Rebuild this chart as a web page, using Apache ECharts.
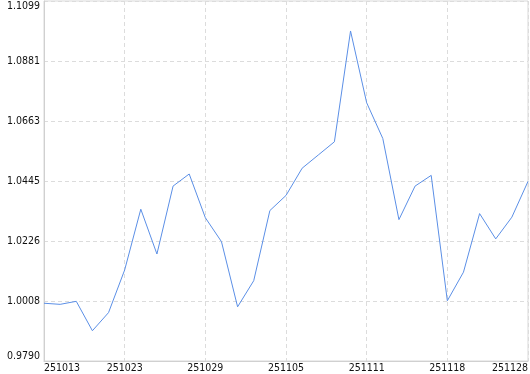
<!DOCTYPE html>
<html>
<head>
<meta charset="utf-8">
<script src="https://cdn.jsdelivr.net/npm/echarts@6/dist/echarts.min.js"></script>
<style>
html,body{margin:0;padding:0;background:#fff;}
#chart{width:530px;height:374px;}
</style>
</head>
<body>
<div id="chart"></div>
<script>
const categories = ['251013','251015','251017','251020','251021','251023','251024','251025','251027','251028',
  '251029','251030','251031','251102','251103','251105','251106','251107','251108','251110',
  '251111','251112','251113','251114','251117','251118','251120','251121','251124','251126','251128'];
const values = [1.0000,0.9996,1.0007,0.9900,0.9966,1.0121,1.0342,1.0179,1.0426,1.0470,
  1.0311,1.0224,0.9987,1.0082,1.0337,1.0392,1.0491,1.0539,1.0587,1.0990,
  1.0729,1.0599,1.0304,1.0426,1.0465,1.0009,1.0113,1.0326,1.0234,1.0313,1.0443];
const yTickLabels = ['0.9790','1.0008','1.0226','1.0445','1.0663','1.0881','1.1099'];
const yMin = 0.9790, yMax = 1.1099;
const yInterval = (yMax - yMin) / (yTickLabels.length - 1);

const chart = echarts.init(document.getElementById('chart'), null, {renderer:'canvas'});
const font = '"DejaVu Sans Condensed", "DejaVu Sans"';
const txt = {color: '#111', fontFamily: font, fontSize: 10.5};
chart.setOption({
  animation: false,
  grid: {left: 44, right: 2, top: 1, bottom: 13, show: true, borderColor: '#d9d9d9', borderWidth: 1,
    containLabel: false, outerBoundsMode: 'none'},
  xAxis: {
    type: 'category',
    data: categories,
    boundaryGap: false,
    axisLine: {show: true, lineStyle: {color: '#d0d0d0'}},
    axisTick: {show: false},
    axisLabel: Object.assign({interval: 4, margin: 2, alignMinLabel: 'left', alignMaxLabel: 'right'}, txt),
    splitLine: {show: true, interval: 4, lineStyle: {color: '#dcdcdc', type: [4, 3]}}
  },
  yAxis: {
    type: 'value',
    min: yMin, max: yMax, interval: yInterval,
    axisLine: {show: true, lineStyle: {color: '#d0d0d0'}},
    axisTick: {show: false},
    axisLabel: Object.assign({margin: 4,
      rich: {
        top: Object.assign({padding: [10, 0, 0, 0]}, txt),
        bot: Object.assign({padding: [0, 0, 10, 0]}, txt)
      },
      formatter: function (v) {
        const i = Math.round((v - yMin) / yInterval);
        const s = yTickLabels[i] !== undefined ? yTickLabels[i] : '';
        if (i === yTickLabels.length - 1) return '{top|' + s + '}';
        if (i === 0) return '{bot|' + s + '}';
        return s;
      }}, txt),
    splitLine: {show: true, lineStyle: {color: '#dcdcdc', type: [4, 3]}}
  },
  series: [{
    type: 'line',
    data: values,
    showSymbol: false,
    symbol: 'none',
    lineStyle: {color: '#5b8fe6', width: 1},
    itemStyle: {color: '#5b8fe6'}
  }]
});
</script>
</body>
</html>
